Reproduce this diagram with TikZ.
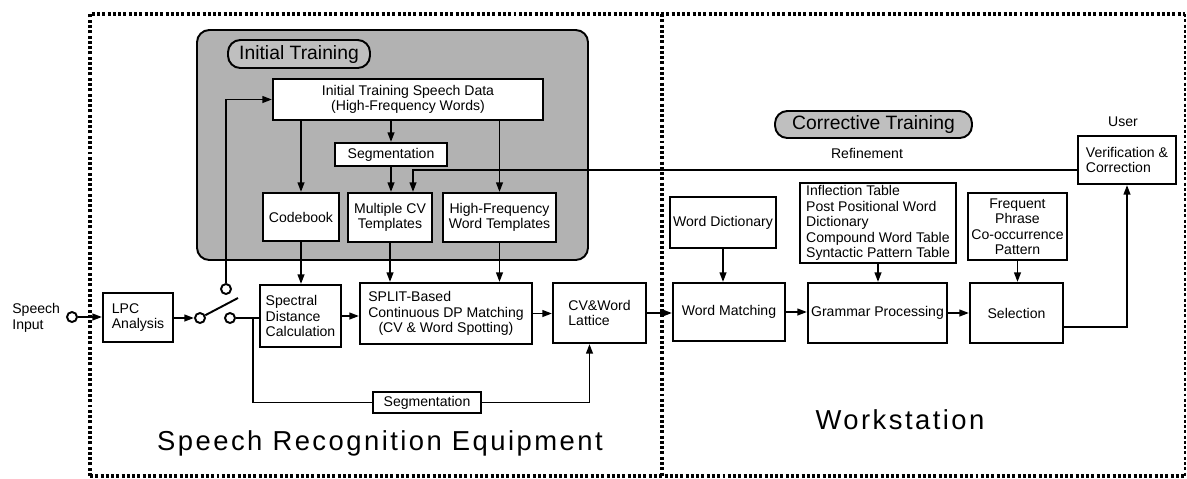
\documentclass[tikz,border=0pt]{standalone}
\usepackage{fontspec}
\setmainfont{Liberation Sans}
\usetikzlibrary{arrows.meta,calc}
\newcommand{\fsz}{\fontsize{8}{8.8}\selectfont}
\newcommand{\mybox}[7][]{\node[box,#1,minimum width={(#5-#3)*0.02cm},minimum height={(#6-#4)*0.02cm}] (#2) at ({(#3+#5)/2},{(#4+#6)/2}) {#7};}
\begin{document}
\begin{tikzpicture}[x=0.02cm,y=-0.02cm,
  box/.style={draw,line width=1.1pt,fill=white,inner sep=1pt,font=\fsz,align=center},
  lbl/.style={font=\fsz,inner sep=0pt},
  arr/.style={line width=1.1pt,-{Triangle[length=5.5pt,width=3.8pt]}},
  ln/.style={line width=1.1pt},
  frame/.style={line width=2pt,dash pattern=on 1.7pt off 1.3pt},
  pill/.style={draw,line width=1.1pt,rounded corners=7pt,fill=black!25,font=\fontsize{11}{12}\selectfont,inner sep=0pt},
  swc/.style={circle,draw,line width=1.1pt,fill=white,minimum size=0.2cm,inner sep=0pt},
  big/.style={font=\addfontfeature{LetterSpace=9}\fontsize{15.6}{18}\selectfont,inner sep=0pt}]
\useasboundingbox (0,0) rectangle (1187,478);
% frames
\draw[frame] (90,476) -- (90,14) -- (1185,14);
\draw[frame] (90,476) -- (1185,476);
\draw[frame,line width=1pt] (1185,14) -- (1185,476);
\draw[frame] (662,14) -- (662,476);
% shaded region
\draw[line width=1.1pt,rounded corners=7pt,fill=black!30] (197,30) rectangle (588,260);
\node[pill,minimum width=2.84cm,minimum height=0.56cm] (itl) at (299,54) {Initial Training};
\node[pill,minimum width=3.94cm,minimum height=0.54cm] (ctl) at (873.5,124.5) {Corrective Training};
% boxes
\mybox{data}{273}{79}{543}{120}{Initial Training Speech Data\\(High-Frequency Words)}
\mybox{segA}{335}{143}{447}{166}{Segmentation}
\mybox{codebook}{263}{193}{339}{241}{Codebook}
\mybox{mcv}{348}{193}{432}{242}{Multiple CV\\Templates}
\mybox{hfw}{443}{193}{556}{242}{High-Frequency\\Word Templates}
\mybox[align=left]{lpc}{103}{293}{173}{342}{LPC\\Analysis}
\mybox[align=left]{sdc}{260}{285}{341}{347}{Spectral\\Distance\\Calculation}
\mybox{split}{360}{283}{532}{344}{\rlap{SPLIT-Based}\hphantom{Continuous DP Matching}\\Continuous DP Matching\\(CV \& Word Spotting)}
\mybox[align=left]{lattice}{553}{283}{646}{343}{CV\&Word\\Lattice}
\mybox{segB}{373}{392}{481}{413}{Segmentation}
\mybox{wdict}{670}{197}{776}{248}{Word Dictionary}
\mybox{wmatch}{673}{283}{785}{341}{Word Matching}
\mybox[align=left]{gtab}{800}{183}{956}{263}{Inflection Table\\Post Positional Word\\Dictionary\\Compound Word Table\\Syntactic Pattern Table}
\mybox{gproc}{808}{283}{947}{343}{Grammar Processing}
\mybox{fphr}{968}{193}{1067}{260}{Frequent\\Phrase\\Co-occurrence\\Pattern}
\mybox{sel}{970}{283}{1063}{343}{Selection}
\mybox[align=left]{verif}{1078}{136}{1176}{184}{Verification \&\\Correction}
% labels
\node[lbl,anchor=west,align=left] (sin) at (12,318) {Speech\\Input};
\node[lbl] (user) at (1123,122) {User};
\node[lbl] (refl) at (867,153) {Refinement};
\node[big] (sre) at (380,443) {Speech Recognition Equipment};
\node[big] (ws) at (900,420) {Workstation};
% switch
\node[swc] (inp) at (72,317) {};
\node[swc] (sw1) at (200,318) {};
\node[swc] (sw2) at (230,318) {};
\node[swc] (sw3) at (226,289) {};
\coordinate (lev) at (238,298);
\coordinate (j) at (253,318);
% connectors
\draw[arr] (inp) -- (lpc.west |- inp);
\draw[arr] (lpc.east |- sw1) -- (sw1.west);
\draw[ln] (sw1) -- (lev);
\draw[arr] (sw3.north) |- (data.west);
\draw[ln] (sw2.east) -- (sw2.east -| sdc.west);
\draw[ln] (j) |- (segB.west);
\draw[arr] (segB.east) -| ($(lattice.south)+(-10,0)$);
\draw[arr] (codebook.north |- data.south) -- (codebook.north);
\draw[arr] (segA.north |- data.south) -- (segA.north);
\draw[arr] (segA.south) -- (segA.south |- mcv.north);
\draw[arr] (hfw.north |- data.south) -- (hfw.north);
\draw[arr] ($(verif.west)+(0,10)$) -| ($(mcv.north)+(23,0)$);
\draw[arr] (codebook.south) -- (codebook.south |- sdc.north);
\draw[arr] (mcv.south) -- (mcv.south |- split.north);
\draw[arr] (hfw.south) -- (hfw.south |- split.north);
\draw[arr] (sdc.east) -- (sdc.east -| split.west);
\draw[arr] (split.east) -- (split.east -| lattice.west);
\draw[arr] (lattice.east) -- (lattice.east -| wmatch.west);
\draw[arr] (wdict.south) -- (wdict.south |- wmatch.north);
\draw[arr] (wmatch.east) -- (wmatch.east -| gproc.west);
\draw[arr] (gtab.south) -- (gtab.south |- gproc.north);
\draw[arr] (gproc.east) -- (gproc.east -| sel.west);
\draw[arr] (fphr.south) -- (fphr.south |- sel.north);
\draw[arr] ($(sel.east)+(0,14)$) -| (verif.south);
\end{tikzpicture}
\end{document}
